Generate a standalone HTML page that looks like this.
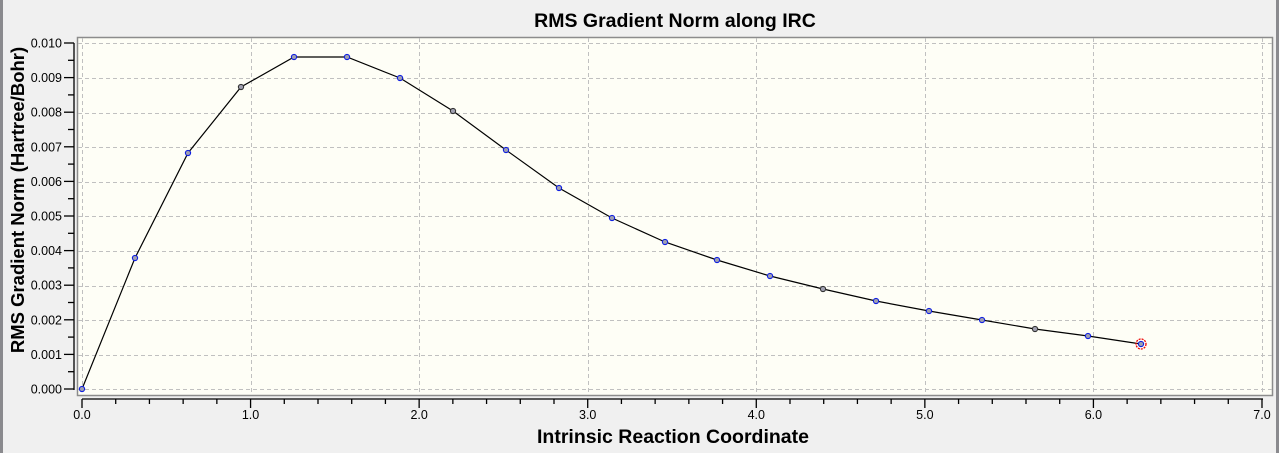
<!DOCTYPE html>
<html><head><style>
body{margin:0;width:1279px;height:453px;overflow:hidden;background:#f0f0f0;}
svg{display:block;font-family:"Liberation Sans",sans-serif;}
</style></head><body>
<svg width="1279" height="453" viewBox="0 0 1279 453">
<rect x="0" y="0" width="1279" height="453" fill="#f0f0f0"/>
<rect x="0" y="0" width="3" height="453" fill="#8a8a8e"/>
<rect x="1276" y="0" width="3" height="453" fill="#8a8a8e"/>
<text x="675" y="27" text-anchor="middle" font-size="19.5" font-weight="bold">RMS Gradient Norm along IRC</text>
<rect x="77.5" y="37.5" width="1195" height="358" fill="#fefef6" stroke="#8c8c8c" stroke-width="1.5"/>
<g stroke="#c0c0c0" stroke-dasharray="4,3" stroke-width="1">
<line x1="78" x2="1272" y1="43.5" y2="43.5"/><line x1="78" x2="1272" y1="78.5" y2="78.5"/>
<line x1="78" x2="1272" y1="113.5" y2="113.5"/><line x1="78" x2="1272" y1="147.5" y2="147.5"/>
<line x1="78" x2="1272" y1="182.5" y2="182.5"/><line x1="78" x2="1272" y1="216.5" y2="216.5"/>
<line x1="78" x2="1272" y1="251.5" y2="251.5"/><line x1="78" x2="1272" y1="286.5" y2="286.5"/>
<line x1="78" x2="1272" y1="320.5" y2="320.5"/><line x1="78" x2="1272" y1="355.5" y2="355.5"/>
<line x1="78" x2="1272" y1="389.5" y2="389.5"/>
<line y1="38" y2="395" x1="82.5" x2="82.5"/><line y1="38" y2="395" x1="251.5" x2="251.5"/>
<line y1="38" y2="395" x1="419.5" x2="419.5"/><line y1="38" y2="395" x1="588.5" x2="588.5"/>
<line y1="38" y2="395" x1="756.5" x2="756.5"/><line y1="38" y2="395" x1="925.5" x2="925.5"/>
<line y1="38" y2="395" x1="1093.5" x2="1093.5"/><line y1="38" y2="395" x1="1262.5" x2="1262.5"/>
</g>
<g stroke="#000" stroke-width="1.3">
<line x1="74" y1="43" x2="74" y2="390"/>
<line x1="82" y1="399" x2="1263" y2="399"/>
</g>
<g id="yt" stroke="#000" stroke-width="1.3"></g>
<g id="xt" stroke="#000" stroke-width="1.3"></g>
<g font-size="12.5" text-anchor="end" id="yl"></g>
<g font-size="12.5" text-anchor="middle" id="xl"></g>
<polyline fill="none" stroke="#000" stroke-width="1.2" points="82,389 135,258 188,153 241,87 294,57 347,57 400,78 453,111 506,150 559,188 612,218 665,242 717,260 770,276 823,289 876,301 929,311 982,320 1035,329 1088,336 1141,344"/>
<g id="pts"></g>
<circle cx="1141" cy="344" r="5" fill="none" stroke="#e00" stroke-width="1.3" stroke-dasharray="2,1"/>
<text transform="translate(24,200) rotate(-90)" text-anchor="middle" font-size="18.5" font-weight="bold">RMS Gradient Norm (Hartree/Bohr)</text>
<text x="673" y="443" text-anchor="middle" font-size="19.5" font-weight="bold">Intrinsic Reaction Coordinate</text>
</svg>
<script>
var ns="http://www.w3.org/2000/svg";
function el(p,t,a,txt){var e=document.createElementNS(ns,t);for(var k in a)e.setAttribute(k,a[k]);if(txt)e.textContent=txt;document.getElementById(p).appendChild(e);}
for(var i=0;i<=20;i++){var y=389-i*17.3;el("yt","line",{x1:i%2?68:64,x2:74,y1:y,y2:y});}
for(var i=0;i<=10;i++){var y=389-i*34.6;el("yl","text",{x:62,y:y+4.5},(i/1000).toFixed(3));}
for(var i=0;i<=35;i++){var x=82+i*33.714;el("xt","line",{x1:x,x2:x,y1:399,y2:i%5?404:408});}
for(var i=0;i<=7;i++){el("xl","text",{x:82+i*168.57,y:419},i.toFixed(1));}
var p=[[82,389],[135,258],[188,153],[241,87],[294,57],[347,57],[400,78],[453,111],[506,150],[559,188],[612,218],[665,242],[717,260],[770,276],[823,289],[876,301],[929,311],[982,320],[1035,329],[1088,336],[1141,344]];
var dark={3:1,7:1,14:1,18:1};
p.forEach(function(q,i){el("pts","circle",{cx:q[0],cy:q[1],r:2.6,fill:"#a0a0b0",stroke:dark[i]?"#333":"#1020e0","stroke-width":1.1});});
</script>
</body></html>
